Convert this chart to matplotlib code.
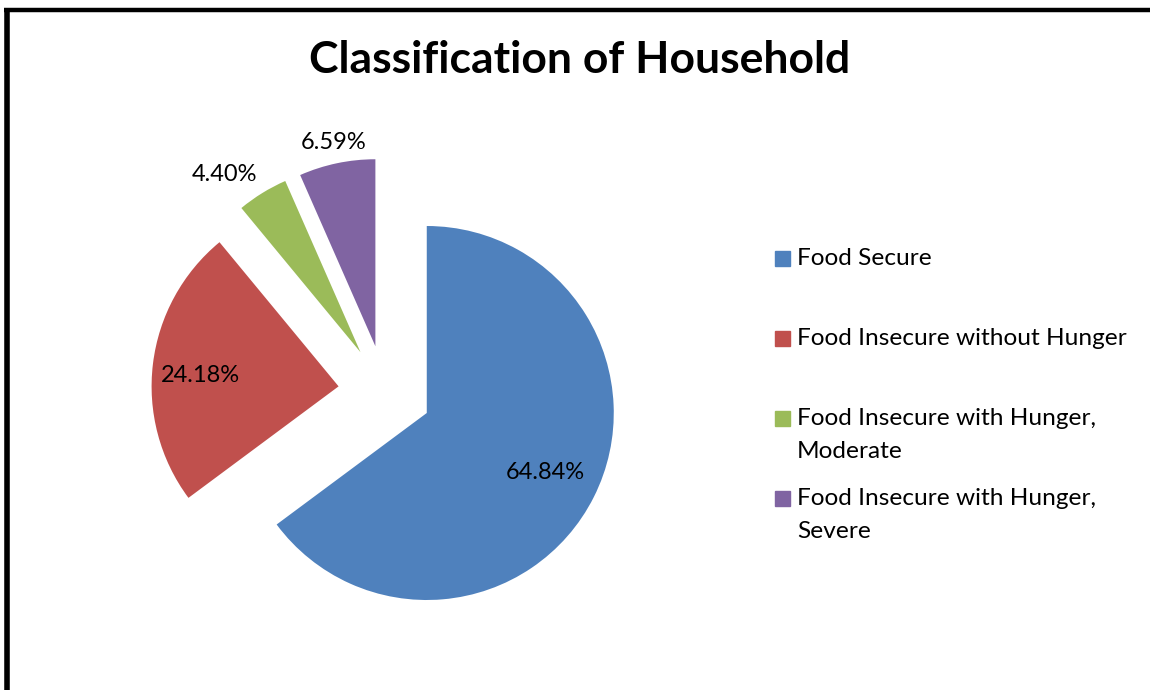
import numpy as np
import matplotlib.pyplot as plt
from matplotlib.patches import Rectangle

plt.rcParams['font.family'] = ['Lato', 'DejaVu Sans']

title = "Classification of Household"
categories = ["Food Secure", "Food Insecure without Hunger",
              "Food Insecure with Hunger,\nModerate",
              "Food Insecure with Hunger,\nSevere"]
shares = [64.84, 24.18, 4.40, 6.59]
colors = ["#4F81BD", "#C0504D", "#9BBB59", "#8064A2"]

W, H = 1150, 690
fig = plt.figure(figsize=(W / 100, H / 100), dpi=100)
ax = fig.add_axes([0, 0, 1, 1])

cx, cy, r = 385, H - 392, 187
off = 0.25 * r  # explode distance (pie uses data units)
total = sum(shares)
wedges, texts, autotexts = ax.pie(shares, colors=colors, startangle=90, counterclock=False,
                                  explode=[off] * 4, radius=r, center=(cx, cy),
                                  autopct=lambda p: f'{p * total / 100:.2f}%',
                                  textprops=dict(fontsize=17, color='black'))

# move the value labels like in excel (distance in radii, angle nudge in deg)
label_dist = [0.71, 0.74, 1.2, 1.11]
label_turn = [0, 2.6, 5.8, -0.3]
for w, t, d, a in zip(wedges, autotexts, label_dist, label_turn):
    mid = np.deg2rad((w.theta1 + w.theta2) / 2)
    x0 = cx + off * np.cos(mid)
    y0 = cy + off * np.sin(mid)
    ang = mid + np.deg2rad(a)
    t.set_position((x0 + d * r * np.cos(ang), y0 + d * r * np.sin(ang)))
    t.set_ha('center')
    t.set_va('center')

ax.set_xlim(0, W)
ax.set_ylim(0, H)
ax.set_aspect('auto')
ax.axis('off')

ax.text(580, H - 60, title, ha='center', va='center', fontsize=32, fontweight='bold')

# legend, evenly spaced entries
base = [265, 345, 425, 505]
for i, (lab, c) in enumerate(zip(categories, colors)):
    ax.add_patch(Rectangle((775, H - base[i] - 1), 15, 15, color=c))
    for j, line in enumerate(lab.split("\n")):
        ax.text(797, H - base[i] - 33 * j, line, fontsize=17.6, va='baseline', ha='left')

# frame edges that are visible in the crop
ax.plot([6.5, 6.5], [0, H - 8], color='black', lw=4, solid_capstyle='butt')
ax.plot([4, W], [H - 10, H - 10], color='black', lw=3.2, solid_capstyle='butt')

fig.savefig("out.png", dpi=100)
